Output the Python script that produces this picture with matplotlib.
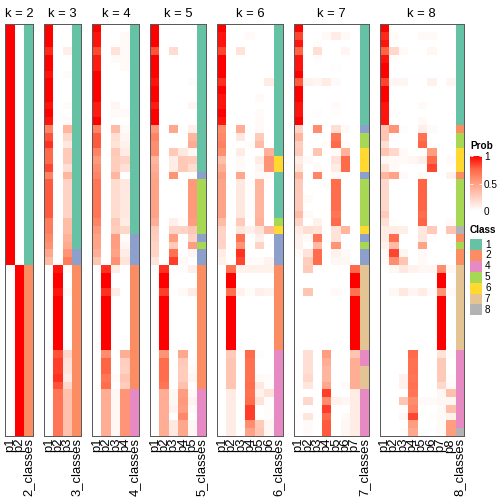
import numpy as np
import matplotlib.pyplot as plt
from matplotlib.colors import LinearSegmentedColormap, to_rgba
from matplotlib.patches import Rectangle

plt.rcParams['font.family'] = ['Liberation Sans', 'DejaVu Sans']

# membership probabilities in percent, one row per sample (same row order in every panel)
prob_k2 = [
    [100, 0], [100, 0], [100, 0], [100, 0], [100, 0], [100, 0], [100, 0], [100, 0],
    [100, 0], [100, 0], [100, 0], [100, 0], [100, 0], [100, 0], [100, 0], [100, 0],
    [100, 0], [100, 0], [100, 0], [100, 0], [100, 0], [100, 0], [100, 0], [100, 0],
    [100, 0], [100, 0], [100, 0], [100, 0], [100, 0], [100, 0], [100, 0],
    [0, 100], [0, 100], [0, 100], [0, 100], [0, 100], [0, 100], [0, 100], [0, 100],
    [0, 100], [0, 100], [0, 100], [0, 100], [0, 100], [0, 100], [0, 100], [0, 100],
    [0, 100], [0, 100], [0, 100], [0, 100], [0, 100], [0, 100]]

prob_k3 = [
    [100, 0, 0], [100, 0, 0], [100, 0, 0], [90, 0, 8], [100, 0, 0], [100, 0, 0], [95, 0, 2], [100, 0, 0],
    [100, 0, 0], [100, 0, 0], [95, 0, 2], [100, 0, 0], [95, 0, 3], [62, 0, 38], [80, 0, 20], [88, 0, 12],
    [73, 0, 27], [73, 0, 27], [83, 0, 17], [62, 0, 38], [78, 0, 22], [78, 0, 22], [78, 0, 22], [78, 0, 22],
    [78, 0, 22], [66, 0, 34], [66, 0, 34], [60, 0, 40], [56, 0, 44], [45, 0, 55], [35, 0, 65],
    [0, 95, 3], [0, 100, 0], [0, 100, 0], [0, 95, 3], [0, 100, 0], [0, 100, 0], [0, 100, 0], [0, 100, 0],
    [0, 100, 0], [0, 100, 0], [0, 100, 0], [0, 80, 20], [0, 85, 15], [0, 85, 14], [0, 88, 10], [0, 80, 20],
    [0, 68, 32], [0, 68, 32], [0, 68, 32], [0, 68, 32], [0, 68, 32], [0, 68, 32]]

prob_k4 = [
    [100, 0, 0, 0], [95, 0, 0, 3], [95, 0, 1, 3], [82, 0, 15, 3], [93, 0, 3, 3], [93, 0, 0, 3],
    [100, 0, 0, 0], [100, 0, 0, 0], [100, 0, 0, 0], [100, 0, 0, 0], [93, 0, 5, 0], [93, 0, 3, 3],
    [100, 0, 0, 0], [62, 0, 35, 3], [78, 0, 17, 5], [78, 0, 15, 7], [62, 0, 28, 10], [52, 0, 26, 22],
    [58, 0, 26, 16], [62, 0, 38, 0], [68, 0, 18, 12], [68, 0, 18, 12], [68, 0, 18, 12], [68, 0, 18, 12],
    [68, 0, 18, 12], [62, 0, 28, 10], [53, 0, 26, 21], [48, 0, 50, 2], [48, 0, 50, 5], [42, 0, 48, 10],
    [30, 0, 56, 14],
    [0, 88, 10, 0], [0, 100, 0, 0], [0, 100, 0, 0], [0, 88, 10, 0], [0, 100, 0, 0], [0, 100, 0, 0],
    [0, 100, 0, 0], [0, 100, 0, 0], [0, 100, 0, 0], [0, 100, 0, 0], [0, 100, 0, 0], [0, 58, 0, 42],
    [0, 75, 0, 25], [0, 75, 0, 24], [0, 68, 2, 30], [0, 72, 0, 26], [0, 42, 4, 54], [0, 42, 4, 54],
    [0, 42, 4, 54], [0, 42, 4, 54], [0, 42, 4, 54], [0, 42, 4, 54]]

prob_k5 = [
    [100, 0, 0, 0, 0], [100, 0, 0, 0, 0], [100, 0, 0, 0, 0], [80, 0, 18, 0, 0], [100, 0, 0, 0, 0],
    [100, 0, 0, 0, 0], [100, 0, 0, 0, 0], [95, 0, 0, 0, 2], [100, 0, 0, 0, 0], [100, 0, 0, 0, 0],
    [93, 0, 0, 0, 5], [100, 0, 0, 0, 0], [100, 0, 0, 0, 0], [53, 0, 45, 0, 8], [62, 0, 0, 0, 38],
    [57, 0, 0, 0, 43], [58, 0, 28, 12, 4], [38, 0, 10, 28, 26], [42, 0, 10, 28, 18], [45, 0, 55, 0, 0],
    [48, 0, 0, 0, 52], [48, 0, 0, 0, 52], [48, 0, 0, 0, 52], [48, 0, 0, 0, 52], [48, 0, 0, 0, 52],
    [42, 0, 8, 2, 50], [27, 0, 22, 22, 29], [25, 0, 50, 0, 22], [22, 0, 27, 0, 50], [22, 0, 70, 0, 5],
    [13, 0, 85, 3, 0],
    [0, 88, 0, 1, 8], [0, 100, 0, 0, 0], [0, 100, 0, 0, 0], [0, 85, 0, 3, 10], [0, 100, 0, 0, 0],
    [0, 100, 0, 0, 0], [0, 100, 0, 0, 0], [0, 100, 0, 0, 0], [0, 100, 0, 0, 0], [0, 100, 0, 0, 0],
    [0, 100, 0, 0, 0], [0, 55, 0, 45, 0], [0, 72, 0, 28, 1], [0, 72, 0, 26, 3], [0, 72, 0, 26, 5],
    [0, 68, 0, 32, 0], [0, 42, 4, 50, 3], [0, 42, 4, 52, 6], [0, 42, 6, 50, 3], [0, 42, 0, 60, 0],
    [0, 42, 12, 45, 4], [0, 42, 12, 45, 4]]

prob_k6 = [
    [100, 0, 0, 0, 0, 0], [95, 0, 0, 3, 0, 0], [95, 0, 0, 0, 0, 0], [83, 0, 15, 0, 0, 0],
    [100, 0, 0, 0, 0, 0], [100, 0, 0, 0, 0, 0], [100, 0, 0, 0, 0, 0], [88, 0, 0, 0, 0, 10],
    [100, 0, 0, 0, 0, 0], [95, 0, 0, 0, 3, 0], [95, 0, 0, 0, 0, 0], [100, 0, 0, 0, 2, 0],
    [95, 0, 0, 0, 3, 0], [57, 0, 42, 0, 3, 0], [60, 0, 12, 0, 27, 0], [63, 0, 0, 2, 35, 0],
    [57, 0, 10, 0, 0, 40], [33, 0, 3, 0, 10, 55], [42, 0, 3, 0, 5, 55], [50, 0, 45, 0, 3, 3],
    [47, 0, 12, 1, 38, 0], [47, 0, 12, 1, 38, 0], [47, 0, 12, 1, 38, 0], [47, 0, 12, 1, 38, 0],
    [47, 0, 12, 1, 38, 0], [35, 0, 27, 0, 40, 0], [22, 0, 13, 8, 15, 37], [22, 0, 70, 0, 8, 0],
    [22, 0, 55, 0, 22, 0], [10, 0, 88, 0, 0, 0], [7, 0, 83, 2, 2, 6],
    [0, 70, 7, 7, 7, 7], [0, 100, 0, 0, 0, 0], [0, 100, 0, 0, 0, 0], [0, 70, 7, 2, 8, 6],
    [0, 100, 0, 0, 0, 0], [0, 100, 0, 0, 0, 0], [0, 100, 0, 0, 0, 0], [0, 100, 0, 0, 0, 0],
    [0, 100, 0, 0, 0, 0], [0, 100, 0, 0, 0, 0], [0, 100, 0, 0, 0, 0], [0, 27, 0, 73, 1, 0],
    [0, 30, 0, 70, 0, 0], [0, 30, 0, 70, 0, 0], [0, 30, 0, 70, 3, 2], [0, 30, 0, 72, 12, 1],
    [0, 10, 0, 70, 7, 15], [0, 10, 0, 72, 15, 1], [0, 10, 0, 85, 0, 1], [0, 10, 0, 85, 0, 1],
    [0, 10, 0, 57, 27, 4], [0, 10, 0, 47, 30, 4]]

prob_k7 = [
    [100, 0, 0, 0, 0, 0, 0], [83, 0, 0, 3, 10, 3, 0], [95, 0, 1, 0, 0, 0, 0], [75, 0, 17, 0, 0, 5, 0],
    [95, 0, 1, 0, 0, 0, 0], [95, 0, 0, 0, 1, 0, 0], [100, 0, 0, 0, 0, 0, 0], [78, 7, 5, 10, 3, 0, 0],
    [100, 0, 0, 0, 0, 0, 0], [100, 0, 0, 0, 0, 0, 0], [95, 0, 0, 0, 3, 0, 0], [95, 0, 1, 0, 1, 0, 0],
    [100, 0, 0, 0, 0, 0, 0], [22, 0, 58, 0, 17, 3, 0], [38, 0, 0, 0, 68, 0, 0], [25, 0, 0, 2, 73, 2, 0],
    [27, 0, 30, 0, 3, 40, 0], [10, 3, 0, 0, 15, 73, 0], [15, 0, 3, 0, 10, 73, 0], [38, 0, 62, 0, 3, 1, 0],
    [27, 0, 0, 1, 72, 0, 0], [27, 0, 0, 0, 72, 0, 0], [27, 2, 0, 0, 72, 0, 0], [27, 0, 0, 0, 72, 0, 0],
    [35, 3, 0, 0, 68, 0, 0], [22, 0, 7, 0, 73, 0, 0], [10, 17, 15, 0, 15, 38, 0], [7, 3, 68, 0, 15, 0, 0],
    [7, 0, 35, 0, 55, 0, 0], [3, 15, 72, 0, 7, 3, 0], [0, 25, 72, 0, 4, 4, 0],
    [0, 27, 0, 0, 0, 0, 73], [0, 0, 0, 0, 0, 0, 100], [0, 0, 0, 0, 0, 0, 100], [0, 30, 0, 0, 3, 0, 70],
    [0, 0, 0, 0, 0, 0, 100], [0, 0, 0, 0, 0, 0, 100], [0, 0, 0, 0, 0, 0, 100], [0, 0, 0, 0, 0, 0, 100],
    [0, 0, 0, 0, 0, 0, 100], [0, 0, 0, 0, 0, 0, 100], [0, 0, 0, 0, 0, 0, 100], [0, 17, 0, 50, 0, 0, 30],
    [0, 17, 0, 42, 0, 0, 42], [0, 17, 0, 38, 0, 0, 42], [0, 20, 0, 38, 0, 0, 42], [0, 13, 0, 45, 0, 3, 42],
    [0, 0, 0, 85, 0, 0, 10], [0, 20, 0, 58, 7, 4, 10], [0, 0, 0, 85, 0, 0, 10], [0, 13, 0, 73, 0, 3, 10],
    [0, 3, 0, 78, 0, 4, 10], [0, 3, 0, 78, 0, 4, 10]]

prob_k8 = [
    [100, 0, 0, 0, 0, 0, 0, 0], [90, 2, 0, 0, 3, 3, 0, 0], [95, 1, 0, 0, 0, 0, 0, 0],
    [75, 20, 3, 0, 0, 4, 0, 0], [95, 1, 0, 0, 0, 0, 0, 0], [100, 0, 0, 0, 0, 0, 0, 0],
    [100, 0, 0, 0, 0, 0, 0, 0], [83, 5, 5, 0, 0, 7, 0, 5], [100, 0, 0, 0, 0, 0, 0, 0],
    [100, 0, 0, 0, 0, 0, 0, 0], [95, 0, 0, 0, 3, 0, 0, 0], [95, 1, 0, 0, 0, 0, 0, 0],
    [95, 0, 0, 0, 3, 0, 0, 0], [30, 55, 1, 0, 8, 3, 0, 0], [30, 1, 0, 0, 70, 0, 0, 0],
    [17, 0, 0, 0, 75, 0, 0, 0], [30, 20, 3, 0, 0, 50, 0, 0], [4, 3, 3, 4, 8, 73, 0, 3],
    [15, 3, 0, 0, 0, 83, 0, 0], [38, 48, 3, 0, 3, 0, 0, 7], [20, 0, 0, 0, 75, 0, 0, 0],
    [20, 0, 0, 0, 75, 0, 0, 0], [20, 0, 0, 0, 75, 0, 0, 0], [20, 0, 0, 0, 75, 0, 0, 0],
    [27, 0, 0, 0, 72, 0, 0, 0], [17, 1, 0, 0, 75, 0, 0, 3], [10, 10, 8, 0, 12, 27, 0, 30],
    [10, 72, 0, 0, 13, 1, 0, 0], [7, 35, 0, 0, 48, 0, 0, 0], [3, 83, 5, 0, 3, 0, 0, 0],
    [3, 57, 30, 0, 3, 0, 0, 0],
    [0, 4, 12, 7, 4, 4, 58, 4], [0, 0, 0, 0, 0, 0, 100, 0], [0, 0, 0, 0, 0, 0, 100, 0],
    [0, 4, 12, 5, 10, 3, 55, 3], [0, 0, 0, 0, 0, 0, 100, 0], [0, 0, 0, 0, 0, 0, 100, 0],
    [0, 0, 0, 0, 0, 0, 100, 0], [0, 0, 0, 0, 0, 0, 100, 0], [0, 0, 0, 0, 0, 0, 100, 0],
    [0, 0, 0, 0, 0, 0, 100, 0], [0, 0, 0, 0, 0, 0, 100, 0], [0, 0, 0, 73, 0, 0, 15, 1],
    [0, 0, 0, 70, 0, 0, 28, 0], [0, 0, 0, 70, 0, 0, 28, 0], [0, 0, 7, 68, 0, 0, 28, 1],
    [0, 0, 7, 70, 0, 0, 20, 3], [0, 0, 0, 68, 0, 0, 4, 33], [0, 0, 30, 58, 3, 3, 4, 4],
    [0, 0, 1, 62, 0, 0, 3, 33], [0, 0, 4, 83, 0, 1, 3, 7], [0, 0, 0, 50, 0, 0, 3, 50],
    [0, 0, 1, 45, 1, 0, 3, 50]]

# predicted class for each row
class_k2 = [1, 1, 1, 1, 1, 1, 1, 1, 1, 1, 1, 1, 1, 1, 1, 1, 1, 1, 1, 1, 1, 1, 1, 1, 1, 1, 1, 1, 1, 1, 1,
            2, 2, 2, 2, 2, 2, 2, 2, 2, 2, 2, 2, 2, 2, 2, 2, 2, 2, 2, 2, 2, 2]
class_k3 = [1, 1, 1, 1, 1, 1, 1, 1, 1, 1, 1, 1, 1, 1, 1, 1, 1, 1, 1, 1, 1, 1, 1, 1, 1, 1, 1, 1, 1, 3, 3,
            2, 2, 2, 2, 2, 2, 2, 2, 2, 2, 2, 2, 2, 2, 2, 2, 2, 2, 2, 2, 2, 2]
class_k4 = [1, 1, 1, 1, 1, 1, 1, 1, 1, 1, 1, 1, 1, 1, 1, 1, 1, 1, 1, 1, 1, 1, 1, 1, 1, 1, 1, 3, 3, 3, 3,
            2, 2, 2, 2, 2, 2, 2, 2, 2, 2, 2, 2, 2, 2, 2, 2, 4, 4, 4, 4, 4, 4]
class_k5 = [1, 1, 1, 1, 1, 1, 1, 1, 1, 1, 1, 1, 1, 1, 1, 1, 1, 1, 1, 3, 5, 5, 5, 5, 5, 5, 5, 3, 5, 3, 3,
            2, 2, 2, 2, 2, 2, 2, 2, 2, 2, 2, 2, 2, 2, 2, 2, 4, 4, 4, 4, 4, 4]
class_k6 = [1, 1, 1, 1, 1, 1, 1, 1, 1, 1, 1, 1, 1, 1, 1, 1, 1, 6, 6, 1, 1, 1, 1, 1, 1, 5, 6, 3, 3, 3, 3,
            2, 2, 2, 2, 2, 2, 2, 2, 2, 2, 2, 4, 4, 4, 4, 4, 4, 4, 4, 4, 4, 4]
class_k7 = [1, 1, 1, 1, 1, 1, 1, 1, 1, 1, 1, 1, 1, 3, 5, 5, 6, 6, 6, 3, 5, 5, 5, 5, 5, 5, 6, 3, 5, 3, 3,
            7, 7, 7, 7, 7, 7, 7, 7, 7, 7, 7, 4, 4, 7, 7, 7, 4, 4, 4, 4, 4, 4]
class_k8 = [1, 1, 1, 1, 1, 1, 1, 1, 1, 1, 1, 1, 1, 2, 5, 5, 6, 6, 6, 2, 5, 5, 5, 5, 5, 5, 8, 2, 5, 2, 2,
            7, 7, 7, 7, 7, 7, 7, 7, 7, 7, 7, 4, 4, 4, 4, 4, 4, 4, 4, 4, 4, 8]

ks = [2, 3, 4, 5, 6, 7, 8]
probs = [prob_k2, prob_k3, prob_k4, prob_k5, prob_k6, prob_k7, prob_k8]
classes = [class_k2, class_k3, class_k4, class_k5, class_k6, class_k7, class_k8]

class_colors = {1: '#66C2A5', 2: '#FC8D62', 3: '#8DA0CB', 4: '#E78AC3',
                5: '#A6D854', 6: '#FFD92F', 7: '#E5C494', 8: '#B3B3B3'}
# white -> red, interpolated in LAB like ComplexHeatmap does
cmap = LinearSegmentedColormap.from_list(
    'prob', ['#FFFFFF', '#FFCFBF', '#FF9E81', '#FF6746', '#FF0000'])

W = H = 504
fig = plt.figure(figsize=(7, 7), dpi=72)


def box(x, y, w, h):
    # pixel box with top-left origin -> figure fraction
    return [x / W, 1 - (y + h) / H, w / W, h / H]


top, bottom = 24, 436
col_w, gap = 9.35, 11
x = 5
for k, p, cl in zip(ks, probs, classes):
    p = np.array(p) / 100.0
    img = np.ones((len(p), k + 1, 4))
    img[:, :k] = cmap(p)
    img[:, k] = [to_rgba(class_colors[c]) for c in cl]
    w = col_w * (k + 1)
    ax = fig.add_axes(box(x, top, w, bottom - top))
    ax.imshow(img, aspect='auto', interpolation='nearest')
    ax.set_xticks(range(k + 1))
    ax.set_xticklabels(['p%d' % (i + 1) for i in range(k)] + ['%d_classes' % k],
                       rotation=90, fontsize=13)
    ax.tick_params(axis='x', length=0, pad=2)
    ax.set_yticks([])
    for s in ax.spines.values():
        s.set_color('#5a5a5a')
        s.set_linewidth(1)
    ax.set_title('k = %d' % k, fontsize=13, pad=7)
    x += w + gap

# legends
fig.text(470 / W, 1 - 149 / H, 'Prob', fontsize=10, fontweight='bold', va='baseline')
cax = fig.add_axes(box(470, 156, 12, 55))
cax.imshow(np.linspace(1, 0, 100)[:, None], cmap=cmap, aspect='auto',
           extent=[0, 1, 0, 1], vmin=0, vmax=1)
cax.set_xticks([])
cax.set_yticks([0, 0.5, 1])
cax.set_yticklabels(['0', '0.5', '1'])
cax.tick_params(axis='y', left=True, right=True, labelleft=False, labelright=True,
                direction='in', length=3, color='white', labelsize=10, pad=2)
for s in cax.spines.values():
    s.set_visible(False)

fig.text(470 / W, 1 - 233 / H, 'Class', fontsize=10, fontweight='bold', va='baseline')
lax = fig.add_axes([0, 0, 1, 1])
lax.set_xlim(0, W)
lax.set_ylim(H, 0)
lax.axis('off')
legend_classes = sorted(set(class_k8))
for i, c in enumerate(legend_classes):
    y0 = 239 + 10.9 * i
    lax.add_patch(Rectangle((470, y0), 12, 10.9, facecolor=class_colors[c], edgecolor='none'))
    lax.text(485, y0 + 5.6, str(c), fontsize=10, va='center', ha='left')

fig.savefig('out.png', dpi=72)
